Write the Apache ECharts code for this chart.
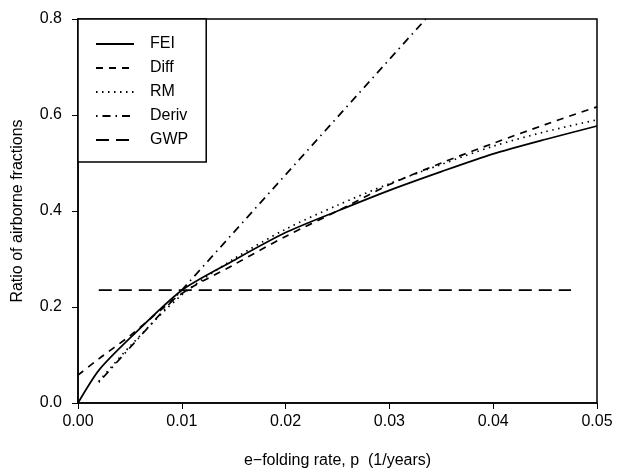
<!DOCTYPE html>
<html>
<head>
<meta charset="utf-8">
<script src="https://cdn.jsdelivr.net/npm/echarts@6/dist/echarts.min.js"></script>
<style>html,body{margin:0;padding:0;background:#fff}#c{width:618px;height:475px}</style>
</head>
<body>
<div id="c"></div>
<script>
const xTicks = [0, 0.01, 0.02, 0.03, 0.04, 0.05];
const yTicks = [0, 0.2, 0.4, 0.6, 0.8];
const pGrid = [0, 0.002, 0.005, 0.01, 0.015, 0.02, 0.025, 0.03, 0.035, 0.04, 0.045, 0.05];
const feiValues  = [0, 0.068, 0.135, 0.235, 0.297, 0.355, 0.400, 0.443, 0.482, 0.519, 0.549, 0.577];
const diffValues = [0.058, 0.092, 0.140, 0.228, 0.288, 0.347, 0.400, 0.455, 0.500, 0.541, 0.580, 0.617];
const rmP        = [0.002, 0.005, 0.01, 0.015, 0.02, 0.025, 0.03, 0.035, 0.04, 0.045, 0.05];
const rmValues   = [0.045, 0.118, 0.225, 0.300, 0.362, 0.412, 0.457, 0.497, 0.535, 0.565, 0.590];
const derivP     = [0.002, 0.0335];
const derivValues= [0.043, 0.800];
const gwpP       = [0.002, 0.0475];
const gwpValues  = [0.235, 0.235];
const seriesNames = ['FEI', 'Diff', 'RM', 'Deriv', 'GWP'];

const zip = (xs, ys) => xs.map((x, i) => [x, ys[i]]);
const font = 'Liberation Sans, Arial, Helvetica, sans-serif';

function mkSeries(name, data, dash, smooth) {
  return {
    name: name, type: 'line', data: data, symbol: 'none', smooth: smooth,
    lineStyle: { color: '#000', width: 1.7, type: dash, cap: 'butt' },
    itemStyle: { color: '#000' },
    emphasis: { disabled: true }, animation: false
  };
}

const chart = echarts.init(document.getElementById('c'), null, { renderer: 'canvas' });
chart.setOption({
  animation: false,
  backgroundColor: '#fff',
  grid: { left: 78, right: 21, top: 19, bottom: 72, show: true, borderColor: '#000', borderWidth: 1.5, containLabel: false },
  legend: {
    data: seriesNames, orient: 'vertical', left: 78, top: 19,
    padding: [17, 18, 14, 17], itemGap: 8, itemWidth: 38, itemHeight: 14,
    borderColor: '#000', borderWidth: 1.5, backgroundColor: '#fff',
    itemStyle: { opacity: 0 },
    textStyle: { color: '#000', fontSize: 16, fontFamily: font, padding: [0, 0, 0, 11], lineHeight: 16 },
    selectedMode: false
  },
  xAxis: {
    type: 'value', min: 0, max: 0.05, interval: 0.01,
    name: 'e\u2212folding rate, p  (1/years)', nameLocation: 'middle', nameGap: 50,
    nameTextStyle: { color: '#000', fontSize: 16, fontFamily: font },
    axisLine: { show: true, lineStyle: { color: '#000', width: 1.5 } },
    axisTick: { show: true, length: 6, lineStyle: { color: '#000', width: 1 } },
    axisLabel: { color: '#000', fontSize: 16, fontFamily: font, margin: 11, formatter: v => v.toFixed(2) },
    splitLine: { show: false }
  },
  yAxis: {
    type: 'value', min: 0, max: 0.8, interval: 0.2,
    name: 'Ratio of airborne fractions', nameLocation: 'middle', nameGap: 52, nameRotate: 90,
    nameTextStyle: { color: '#000', fontSize: 16, fontFamily: font },
    axisLine: { show: true, lineStyle: { color: '#000', width: 1.5 } },
    axisTick: { show: true, length: 6, lineStyle: { color: '#000', width: 1 } },
    axisLabel: { color: '#000', fontSize: 16, fontFamily: font, margin: 16, formatter: v => v.toFixed(1) },
    splitLine: { show: false }
  },
  series: [
    mkSeries('FEI', zip(pGrid, feiValues), 'solid', 0.25),
    mkSeries('Diff', zip(pGrid, diffValues), [7, 6], 0.3),
    mkSeries('RM', zip(rmP, rmValues), [1.5, 4.5], 0.3),
    mkSeries('Deriv', zip(derivP, derivValues), [1.5, 5, 8, 5], false),
    mkSeries('GWP', zip(gwpP, gwpValues), [13, 7], false)
  ]
});
</script>
</body>
</html>
